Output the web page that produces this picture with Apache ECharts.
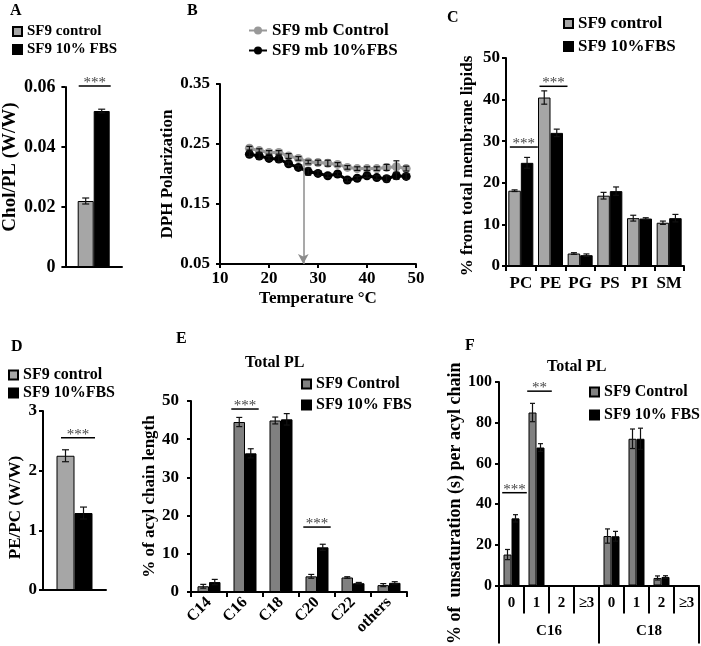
<!DOCTYPE html>
<html><head><meta charset="utf-8">
<script src="https://cdn.jsdelivr.net/npm/echarts@6/dist/echarts.min.js"></script>
<style>html,body{margin:0;padding:0;background:#fff}#c{width:701px;height:646px}</style>
</head><body><div id="c"></div>
<script>
// ---------- Panel A ----------
const aCats = ['Chol/PL'];
const aCtrl = [0.022], aCtrlErr = [0.001];
const aFbs = [0.052], aFbsErr = [0.0006];
const aSigCat = [0], aSigLevel = [0.0603], aSigText = ['***'];
// ---------- Panel B ----------
const bTemp = [16,18,20,22,24,26,28,30,32,34,36,38,40,42,44,46,48];
const bCtrl = [0.243,0.239,0.236,0.236,0.230,0.226,0.220,0.219,0.218,0.216,0.211,0.209,0.209,0.209,0.211,0.212,0.209];
const bCtrlErr = [0.003,0.003,0.003,0.003,0.004,0.003,0.003,0.004,0.005,0.003,0.003,0.003,0.003,0.003,0.005,0.010,0.004];
const bFbs = [0.233,0.230,0.226,0.225,0.217,0.211,0.204,0.201,0.197,0.200,0.190,0.193,0.197,0.194,0.192,0.197,0.196];
const bFbsErr = [0.004,0.005,0.003,0.005,0.003,0.003,0.006,0.004,0.003,0.003,0.003,0.003,0.003,0.003,0.005,0.006,0.005];
const bArrowT = 27, bArrowTop = 0.22;
// ---------- Panel C ----------
const cCats = ['PC','PE','PG','PS','PI','SM'];
const cCtrl = [18.1, 40.5, 3.0, 16.9, 11.5, 10.4];
const cCtrlErr = [0.2, 1.6, 0.2, 0.8, 0.7, 0.4];
const cFbs = [24.8, 32.0, 2.6, 18.0, 11.4, 11.5];
const cFbsErr = [1.3, 0.9, 0.3, 1.0, 0.2, 0.9];
const cSigCat = [0, 1], cSigLevel = [28.6, 43.2], cSigText = ['***','***'];
// ---------- Panel D ----------
const dCats = ['PE/PC'];
const dCtrl = [2.25], dCtrlErr = [0.1];
const dFbs = [1.29], dFbsErr = [0.1];
const dSigCat = [0], dSigLevel = [2.55], dSigText = ['***'];
// ---------- Panel E ----------
const eCats = ['C14','C16','C18','C20','C22','others'];
const eCtrl = [1.5, 44.5, 44.9, 4.1, 3.8, 1.8];
const eCtrlErr = [0.5, 1.2, 0.9, 0.5, 0.2, 0.4];
const eFbs = [2.6, 36.3, 45.2, 11.7, 2.3, 2.4];
const eFbsErr = [0.7, 1.2, 1.5, 0.8, 0.2, 0.3];
const eSigCat = [1, 3], eSigLevel = [47.9, 17.0], eSigText = ['***','***'];
// ---------- Panel F ----------
const fGroups = ['C16','C18'];
const fLevels = ['0','1','2','≥3'];
const fCtrl = [15.2, 85.0, null, null, 24.3, 72.1, 3.7, null];
const fCtrlErr = [2.5, 4.5, 0, 0, 3.5, 4.8, 1.0, 0];
const fFbs = [33.0, 67.8, null, null, 24.2, 72.1, 4.2, null];
const fFbsErr = [1.8, 1.9, 0, 0, 2.4, 5.2, 0.6, 0];
const fSigCat = [0, 1], fSigLevel = [45.6, 95.5], fSigText = ['***','**'];

const FONT = 'Liberation Serif';
const GRAY_L = '#a6a6a6', GRAY_D = '#808080';
const fCats = [];
fGroups.forEach(g => fLevels.forEach(l => fCats.push(g + '/' + l)));

function valY(gi, min, max, interval, fs, margin, name, nameFs, nameGap, namePad, fmt) {
  return {type:'value', gridIndex:gi, min:min, max:max, interval:interval,
    axisLine:{show:true, lineStyle:{color:'#000', width:2}},
    axisTick:{show:true, length:4, lineStyle:{color:'#000', width:2}},
    splitLine:{show:false},
    axisLabel:{color:'#000', fontFamily:FONT, fontWeight:'bold', fontSize:fs, margin:margin, formatter:fmt},
    name:name, nameLocation:'middle', nameGap:nameGap,
    nameTextStyle:{color:'#000', fontFamily:FONT, fontWeight:'bold', fontSize:nameFs, padding:namePad}
  };
}
function catX(gi, data, o) {
  return Object.assign({type:'category', gridIndex:gi, data:data,
    axisLine:{show:true, lineStyle:{color:'#000', width:2}},
    axisTick:{show:o.tick, length:o.tickLen || 5, interval:0, lineStyle:{color:'#000', width:2}},
    axisLabel:{show:o.label, interval:0, color:'#000', fontFamily:FONT, fontWeight:'bold',
      fontSize:o.fs || 16, margin:o.margin || 8, rotate:o.rotate || 0, formatter:o.fmt},
    splitLine:{show:false}}, o.extra || {});
}
function bar(gi, name, data, color, bw) {
  return {type:'bar', name:name, xAxisIndex:gi, yAxisIndex:gi, data:data.map(v => v == null ? '-' : v),
    barWidth:bw, barGap:'0%', silent:true,
    itemStyle:{color:color, borderColor:'#000', borderWidth:1}};
}
function errRender(dx, cap) {
  return function (params, api) {
    const x = api.value(0), v = api.value(1), e = api.value(2);
    const t = api.coord([x, v + e]), b = api.coord([x, v - e]);
    const cx = t[0] + dx;
    const st = {stroke:'#111', lineWidth:1.2};
    return {type:'group', children:[
      {type:'line', shape:{x1:cx, y1:t[1], x2:cx, y2:b[1]}, style:st},
      {type:'line', shape:{x1:cx - cap, y1:t[1], x2:cx + cap, y2:t[1]}, style:st},
      {type:'line', shape:{x1:cx - cap, y1:b[1], x2:cx + cap, y2:b[1]}, style:st}]};
  };
}
function errCat(gi, vals, es, dx, cap) {
  const d = [];
  vals.forEach((v, i) => { if (v != null) d.push([i, v, es[i]]); });
  return {type:'custom', xAxisIndex:gi, yAxisIndex:gi, data:d, silent:true, z:5,
    renderItem:errRender(dx, cap)};
}
function sig(gi, cats, levels, texts, dx, hw) {
  return {type:'custom', xAxisIndex:gi, yAxisIndex:gi, silent:true, z:6,
    data:cats.map((c, i) => [c, levels[i]]),
    renderItem:function (params, api) {
      const p = api.coord([api.value(0), api.value(1)]);
      const cx = p[0] + dx;
      return {type:'group', children:[
        {type:'line', shape:{x1:cx - hw, y1:p[1], x2:cx + hw, y2:p[1]}, style:{stroke:'#000', lineWidth:1.5}},
        {type:'text', x:cx, y:p[1] - 3, style:{text:texts[params.dataIndex], fill:'#444',
          font:'15px "' + FONT + '"', align:'center', verticalAlign:'middle'}}]};
    }};
}
function leg(left, top, names, fs, gap, extra) {
  return Object.assign({left:left, top:top, orient:'vertical', data:names, selectedMode:false,
    icon:'rect', itemWidth:9, itemHeight:9, itemGap:gap, padding:0,
    formatter:n => n.split('|')[1],
    textStyle:{color:'#000', fontFamily:FONT, fontWeight:'bold', fontSize:fs, lineHeight:fs}}, extra || {});
}
const fmt2 = v => v === 0 ? '0' : v.toFixed(2);
const lettersStyle = fs => ({color:'#000', fontFamily:FONT, fontWeight:'bold', fontSize:fs});

const chart = echarts.init(document.getElementById('c'), null, {renderer:'canvas'});
chart.setOption({
  backgroundColor:'#fff',
  animation:false,
  title:[
    {text:'A', left:10, top:3, padding:0, textStyle:lettersStyle(16)},
    {text:'B', left:187, top:3, padding:0, textStyle:lettersStyle(16)},
    {text:'C', left:447, top:10, padding:0, textStyle:lettersStyle(16)},
    {text:'D', left:11, top:339, padding:0, textStyle:lettersStyle(16)},
    {text:'E', left:176, top:331, padding:0, textStyle:lettersStyle(16)},
    {text:'F', left:465, top:338, padding:0, textStyle:lettersStyle(16)},
    {text:'Total PL', left:245, top:355, padding:0, textStyle:lettersStyle(16)},
    {text:'Total PL', left:547, top:359, padding:0, textStyle:lettersStyle(16)}
  ],
  grid:[
    {left:64, top:87, width:58, height:180},
    {left:220, top:84, width:196, height:180},
    {left:506, top:58, width:178, height:208},
    {left:43, top:411, width:63, height:179},
    {left:191, top:401, width:216, height:191},
    {left:499, top:382, width:200, height:207}
  ],
  legend:[
    leg(12, 24, ['A|SF9 control','A|SF9 10% FBS'], 15, 3),
    leg(248, 22, ['B|SF9 mb Control','B|SF9 mb 10%FBS'], 17, 3, {icon:null, itemWidth:18, itemHeight:10}),
    leg(563, 15, ['C|SF9 control','C|SF9 10%FBS'], 17, 6),
    leg(8, 367, ['D|SF9 control','D|SF9 10%FBS'], 16, 2),
    leg(301, 376, ['E|SF9 Control','E|SF9 10% FBS'], 16, 5),
    leg(589, 384, ['F|SF9 Control','F|SF9 10% FBS'], 16, 7)
  ],
  xAxis:[
    catX(0, aCats, {tick:false, label:false}),
    {type:'value', gridIndex:1, min:10, max:50, interval:10,
      axisLine:{show:true, onZero:false, lineStyle:{color:'#000', width:2}},
      axisTick:{show:true, length:4, lineStyle:{color:'#000', width:2}},
      splitLine:{show:false},
      axisLabel:{color:'#000', fontFamily:FONT, fontWeight:'bold', fontSize:17, margin:6},
      name:'Temperature °C', nameLocation:'middle', nameGap:26,
      nameTextStyle:{color:'#000', fontFamily:FONT, fontWeight:'bold', fontSize:17}},
    catX(2, cCats, {tick:true, label:true, fs:17, margin:9}),
    catX(3, dCats, {tick:false, label:false}),
    catX(4, eCats, {tick:true, label:true, fs:16, margin:8, rotate:45}),
    catX(5, fCats, {tick:true, tickLen:28, label:true, fs:15, margin:10, fmt:v => v.split('/')[1]}),
    catX(5, fGroups, {tick:true, tickLen:30, label:true, fs:15, margin:10,
      extra:{position:'bottom', offset:28, axisLine:{show:false}}})
  ],
  yAxis:[
    valY(0, 0, 0.06, 0.02, 18, 10, 'Chol/PL (W/W)', 19, 36, [0,0,0,20], fmt2),
    valY(1, 0.05, 0.35, 0.1, 17, 10, 'DPH Polarization', 17, 39, 0, v => v.toFixed(2)),
    valY(2, 0, 50, 10, 17, 6, '% from total membrane lipids', 17, 30, [0,8,0,0]),
    valY(3, 0, 3, 1, 17, 6, 'PE/PC (W/W)', 17, 19, [0,14,0,0]),
    valY(4, 0, 50, 10, 17, 12, '% of acyl chain length', 17, 32, 0),
    valY(5, 0, 100, 20, 16, 7, '% of  unsaturation (s) per acyl chain', 18, 21, [0,39,0,0])
  ],
  series:[
    // A
    bar(0, 'A|SF9 control', aCtrl, GRAY_L, 16),
    bar(0, 'A|SF9 10% FBS', aFbs, '#000', 16),
    errCat(0, aCtrl, aCtrlErr, -8, 3.5),
    errCat(0, aFbs, aFbsErr, 8, 3.5),
    sig(0, aSigCat, aSigLevel, aSigText, 1, 16),
    // B
    {type:'line', name:'B|SF9 mb Control', xAxisIndex:1, yAxisIndex:1,
      data:bTemp.map((t, i) => [t, bCtrl[i]]), symbol:'circle', symbolSize:9, silent:true,
      itemStyle:{color:'#999999'}, lineStyle:{color:'#999999', width:3}, z:3,
      markLine:{silent:true, symbol:['none','arrow'], symbolSize:[8,10], animation:false,
        lineStyle:{color:'#8c8c8c', width:1.5, type:'solid'}, label:{show:false},
        data:[[{coord:[bArrowT, bArrowTop]}, {coord:[bArrowT, 0.05]}]]}},
    {type:'line', name:'B|SF9 mb 10%FBS', xAxisIndex:1, yAxisIndex:1,
      data:bTemp.map((t, i) => [t, bFbs[i]]), symbol:'circle', symbolSize:9, silent:true,
      itemStyle:{color:'#000'}, lineStyle:{color:'#000', width:3}, z:4},
    {type:'custom', xAxisIndex:1, yAxisIndex:1, silent:true, z:6,
      data:bTemp.map((t, i) => [t, bCtrl[i], bCtrlErr[i]]), renderItem:errRender(0, 3)},
    {type:'custom', xAxisIndex:1, yAxisIndex:1, silent:true, z:6,
      data:bTemp.map((t, i) => [t, bFbs[i], bFbsErr[i]]), renderItem:errRender(0, 3)},
    // C
    bar(2, 'C|SF9 control', cCtrl, GRAY_L, 12.5),
    bar(2, 'C|SF9 10%FBS', cFbs, '#000', 12.5),
    errCat(2, cCtrl, cCtrlErr, -6.25, 3),
    errCat(2, cFbs, cFbsErr, 6.25, 3),
    sig(2, cSigCat, cSigLevel, cSigText, 3, 14),
    // D
    bar(3, 'D|SF9 control', dCtrl, GRAY_L, 18),
    bar(3, 'D|SF9 10%FBS', dFbs, '#000', 18),
    errCat(3, dCtrl, dCtrlErr, -9, 3.5),
    errCat(3, dFbs, dFbsErr, 9, 3.5),
    sig(3, dSigCat, dSigLevel, dSigText, 3.5, 17),
    // E
    bar(4, 'E|SF9 Control', eCtrl, GRAY_D, 11.5),
    bar(4, 'E|SF9 10% FBS', eFbs, '#000', 11.5),
    errCat(4, eCtrl, eCtrlErr, -5.75, 3),
    errCat(4, eFbs, eFbsErr, 5.75, 3),
    sig(4, eSigCat, eSigLevel, eSigText, 0, 13.7),
    // F
    bar(5, 'F|SF9 Control', fCtrl, GRAY_D, 8),
    bar(5, 'F|SF9 10% FBS', fFbs, '#000', 8),
    errCat(5, fCtrl, fCtrlErr, -4, 2.5),
    errCat(5, fFbs, fFbsErr, 4, 2.5),
    sig(5, fSigCat, fSigLevel, fSigText, 3, 12.3)
  ]
});
</script></body></html>
